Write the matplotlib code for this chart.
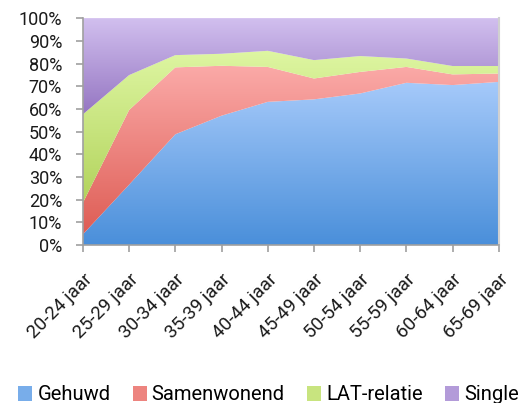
import numpy as np
import matplotlib.pyplot as plt
from matplotlib.colors import LinearSegmentedColormap, to_rgb
from matplotlib.patches import Patch, Polygon

plt.rcParams['font.family'] = ['Roboto', 'DejaVu Sans']

categories = ['20-24 jaar', '25-29 jaar', '30-34 jaar', '35-39 jaar', '40-44 jaar',
              '45-49 jaar', '50-54 jaar', '55-59 jaar', '60-64 jaar', '65-69 jaar']
gehuwd = [4.7, 26.6, 48.8, 57.0, 63.1, 64.2, 66.8, 71.5, 70.5, 71.9]
samenwonend = [13.9, 32.9, 29.5, 22.0, 15.4, 9.2, 9.5, 7.0, 4.7, 3.7]
lat_relatie = [39.0, 15.4, 5.4, 5.3, 7.1, 8.1, 7.0, 3.7, 3.7, 3.3]
single = [42.4, 25.1, 16.3, 15.7, 14.4, 18.5, 16.7, 17.8, 21.1, 21.1]

names = ['Gehuwd', 'Samenwonend', 'LAT-relatie', 'Single']
# (bottom colour, top colour) for the vertical gradients
grads = [('#4a8fda', '#a6cafa'), ('#de5d55', '#fbaaa8'),
         ('#b2d35c', '#def6a2'), ('#9576c2', '#d2c0ef')]

fig = plt.figure(figsize=(5.18, 4.03), dpi=100)
ax = fig.add_axes([0.160, 0.392, 0.803, 0.563])

x = np.arange(len(categories))
series = [np.array(gehuwd), np.array(samenwonend), np.array(lat_relatie), np.array(single)]
lower = np.zeros(len(x))
for vals, (c0, c1) in zip(series, grads):
    upper = np.minimum(lower + vals, 100)
    verts = np.vstack([np.column_stack([x, upper]), np.column_stack([x[::-1], lower[::-1]])])
    poly = Polygon(verts, closed=True, facecolor='none', edgecolor='none')
    ax.add_patch(poly)
    cmap = LinearSegmentedColormap.from_list('g', [c0, c1])
    ymin, ymax = lower.min(), upper.max()
    grad = np.linspace(0, 1, 256).reshape(-1, 1)
    im = ax.imshow(grad, cmap=cmap, origin='lower', aspect='auto',
                   extent=[x[0], x[-1], ymin, ymax], zorder=1)
    im.set_clip_path(poly)
    lower = upper

ax.set_xlim(x[0], x[-1])
ax.set_ylim(0, 100)
ax.set_yticks(np.arange(0, 101, 10))
ax.set_yticklabels([f'{v}%' for v in range(0, 101, 10)])
ax.set_xticks(x)
ax.set_xticklabels(categories, rotation=45, ha='right', rotation_mode='anchor')

ax.spines['top'].set_visible(False)
ax.spines['right'].set_color('#d0d0d0')
ax.spines['right'].set_linewidth(1.5)
for s in ['left', 'bottom']:
    ax.spines[s].set_color('#a0a0a0')
    ax.spines[s].set_linewidth(1.2)
ax.tick_params(axis='both', colors='#a0a0a0', length=5, width=1.2,
               labelcolor='#1a1a1a', labelsize=13)
ax.tick_params(axis='y', pad=10)
ax.tick_params(axis='x', pad=13, labelsize=13.5)

handles = [Patch(facecolor=(np.array(to_rgb(c0)) + np.array(to_rgb(c1))) / 2, edgecolor='none')
           for c0, c1 in grads]
fig.legend(handles, names, loc='center', bbox_to_anchor=(268.5 / 518, 1 - 395 / 403), ncol=4,
           frameon=False, fontsize=14.5, handlelength=0.7, handleheight=0.7,
           handletextpad=0.25, columnspacing=1.1, borderpad=0)

fig.savefig('out.png', dpi=100)
